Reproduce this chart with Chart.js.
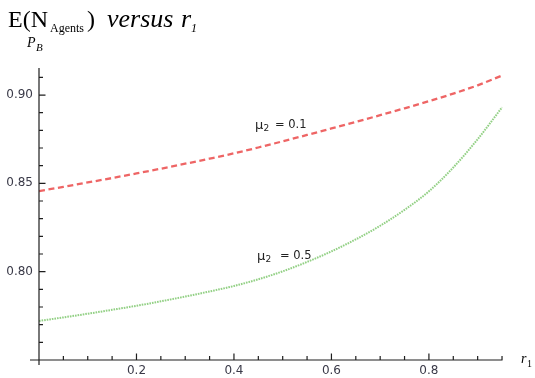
<!DOCTYPE html>
<html>
<head>
<meta charset="utf-8">
<script src="https://cdn.jsdelivr.net/npm/chart.js@4/dist/chart.umd.min.js"></script>
<style>
  html, body { margin: 0; padding: 0; background: #ffffff; }
  #wrap { width: 535px; height: 378px; }
</style>
</head>
<body>
<div id="wrap"><canvas id="c" width="535" height="378"></canvas></div>
<script>
// ---- data ----
const r1Values = [0, 0.05, 0.1, 0.15, 0.2, 0.25, 0.3, 0.35, 0.4, 0.45, 0.5, 0.55, 0.6, 0.65, 0.7, 0.75, 0.8, 0.85, 0.9, 0.95];
const pbMu01 = [0.8456, 0.8480, 0.8505, 0.8530, 0.8556, 0.8583, 0.8611, 0.8640, 0.8670, 0.8703, 0.8738, 0.8774, 0.8811, 0.8848, 0.8886, 0.8925, 0.8965, 0.9008, 0.9055, 0.9110];
const pbMu05 = [0.7721, 0.7741, 0.7762, 0.7784, 0.7807, 0.7832, 0.7859, 0.7888, 0.7919, 0.7957, 0.8002, 0.8055, 0.8115, 0.8183, 0.8260, 0.8350, 0.8455, 0.8590, 0.8750, 0.8930];
const seriesLabels = ['μ2 = 0.1', 'μ2 = 0.5'];
const xTickValues = [0.2, 0.4, 0.6, 0.8];
const xTickLabels = ['0.2', '0.4', '0.6', '0.8'];
const xMinorTicks = [0.05, 0.1, 0.15, 0.25, 0.3, 0.35, 0.45, 0.5, 0.55, 0.65, 0.7, 0.75, 0.85, 0.9, 0.95];
const yTickValues = [0.80, 0.85, 0.90];
const yTickLabels = ['0.80', '0.85', '0.90'];
const yMinorTicks = [0.76, 0.77, 0.78, 0.79, 0.81, 0.82, 0.83, 0.84, 0.86, 0.87, 0.88, 0.89, 0.91];
const xMin = 0, xMax = 0.952, yMin = 0.75, yMax = 0.9153;

const toPoints = (xs, ys) => xs.map((x, i) => ({ x: x, y: ys[i] }));

const axesPlugin = {
  id: 'mmaAxes',
  afterDatasetsDraw(chart) {
    const ctx = chart.ctx;
    const xs = chart.scales.x, ys = chart.scales.y;
    const x0 = xs.getPixelForValue(xMin);
    const y0 = ys.getPixelForValue(yMin);
    ctx.save();
    ctx.strokeStyle = '#1e1e1e';
    ctx.lineWidth = 1.2;
    ctx.beginPath();
    ctx.moveTo(x0 - 9, y0); ctx.lineTo(xs.getPixelForValue(0.95) + 0.5, y0);
    ctx.moveTo(x0, y0 + 5); ctx.lineTo(x0, ys.getPixelForValue(yMax));
    // x ticks
    xTickValues.forEach(v => { const p = xs.getPixelForValue(v); ctx.moveTo(p, y0); ctx.lineTo(p, y0 - 6.5); });
    xMinorTicks.forEach(v => { const p = xs.getPixelForValue(v); ctx.moveTo(p, y0); ctx.lineTo(p, y0 - 4); });
    // y ticks
    yTickValues.forEach(v => { const p = ys.getPixelForValue(v); ctx.moveTo(x0, p); ctx.lineTo(x0 + 6.5, p); });
    yMinorTicks.forEach(v => { const p = ys.getPixelForValue(v); ctx.moveTo(x0, p); ctx.lineTo(x0 + 4, p); });
    ctx.stroke();
    ctx.restore();
  },
  afterDraw(chart) {
    const ctx = chart.ctx;
    ctx.save();
    ctx.fillStyle = '#000';
    ctx.textBaseline = 'alphabetic';
    ctx.textAlign = 'left';
    // title
    ctx.font = '24px "Liberation Serif"';
    ctx.fillText('E(N', 8, 27);
    ctx.font = '12px "Liberation Serif"';
    ctx.fillText('Agents', 50, 32);
    ctx.font = '24px "Liberation Serif"';
    ctx.fillText(')', 87, 27);
    ctx.font = 'italic 26px "Liberation Serif"';
    ctx.fillText('versus', 107, 27);
    ctx.fillText('r', 181, 27);
    ctx.font = 'italic 12px "Liberation Serif"';
    ctx.fillText('1', 191, 32);
    // y axis label P_B
    ctx.font = 'italic 14px "Liberation Serif"';
    ctx.fillText('P', 27, 47);
    ctx.font = 'italic 11px "Liberation Serif"';
    ctx.fillText('B', 36, 51);
    // x axis label r1
    ctx.font = 'italic 14px "Liberation Serif"';
    ctx.fillText('r', 521, 363);
    ctx.font = '10px "Liberation Serif"';
    ctx.fillText('1', 527, 367);
    // curve labels
    const drawLabel = (txt, x, y, eqX) => {
      ctx.font = '13px "DejaVu Sans"';
      ctx.fillText(txt.charAt(0), x, y + 1);
      ctx.font = '9px "DejaVu Sans"';
      ctx.fillText(txt.charAt(1), x + 8.5, y + 3);
      ctx.font = '11.5px "DejaVu Sans"';
      ctx.fillText(txt.slice(3), eqX, y);
    };
    ctx.fillStyle = '#222';
    drawLabel(seriesLabels[0], 255, 128, 275);
    drawLabel(seriesLabels[1], 257, 259, 280);
    ctx.restore();
  }
};

new Chart(document.getElementById('c'), {
  type: 'line',
  data: {
    datasets: [
      {
        label: seriesLabels[0],
        data: toPoints(r1Values, pbMu01),
        borderColor: 'rgba(236,84,84,0.9)',
        borderWidth: 2.3,
        borderDash: [6, 3.6],
        pointRadius: 0,
        cubicInterpolationMode: 'monotone',
        fill: false
      },
      {
        label: seriesLabels[1],
        data: toPoints(r1Values, pbMu05),
        borderColor: 'rgba(140,205,125,0.95)',
        borderWidth: 2,
        borderDash: [1.6, 1],
        pointRadius: 0,
        cubicInterpolationMode: 'monotone',
        fill: false
      }
    ]
  },
  options: {
    responsive: false,
    devicePixelRatio: 1,
    animation: false,
    layout: { padding: { left: 0, right: 32, top: 68, bottom: 0 } },
    plugins: { legend: { display: false }, title: { display: false }, tooltip: { enabled: false } },
    scales: {
      x: {
        type: 'linear', min: xMin, max: xMax,
        afterFit: s => { s.height = 18; },
        afterBuildTicks: s => { s.ticks = xTickValues.map(v => ({ value: v })); },
        grid: { display: false, drawTicks: false },
        border: { display: false },
        ticks: {
          autoSkip: false, maxRotation: 0, padding: 4,
          color: '#3a3a48', font: { family: 'DejaVu Sans', size: 12 },
          callback: (v) => { const i = xTickValues.indexOf(v); return i >= 0 ? xTickLabels[i] : ''; }
        }
      },
      y: {
        type: 'linear', min: yMin, max: yMax,
        afterFit: s => { s.width = 39; },
        afterBuildTicks: s => { s.ticks = yTickValues.map(v => ({ value: v })); },
        grid: { display: false, drawTicks: false },
        border: { display: false },
        ticks: {
          autoSkip: false, padding: 6,
          color: '#3a3a48', font: { family: 'DejaVu Sans', size: 12 },
          callback: (v) => { const i = yTickValues.indexOf(v); return i >= 0 ? yTickLabels[i] : ''; }
        }
      }
    }
  },
  plugins: [axesPlugin]
});
</script>
</body>
</html>
